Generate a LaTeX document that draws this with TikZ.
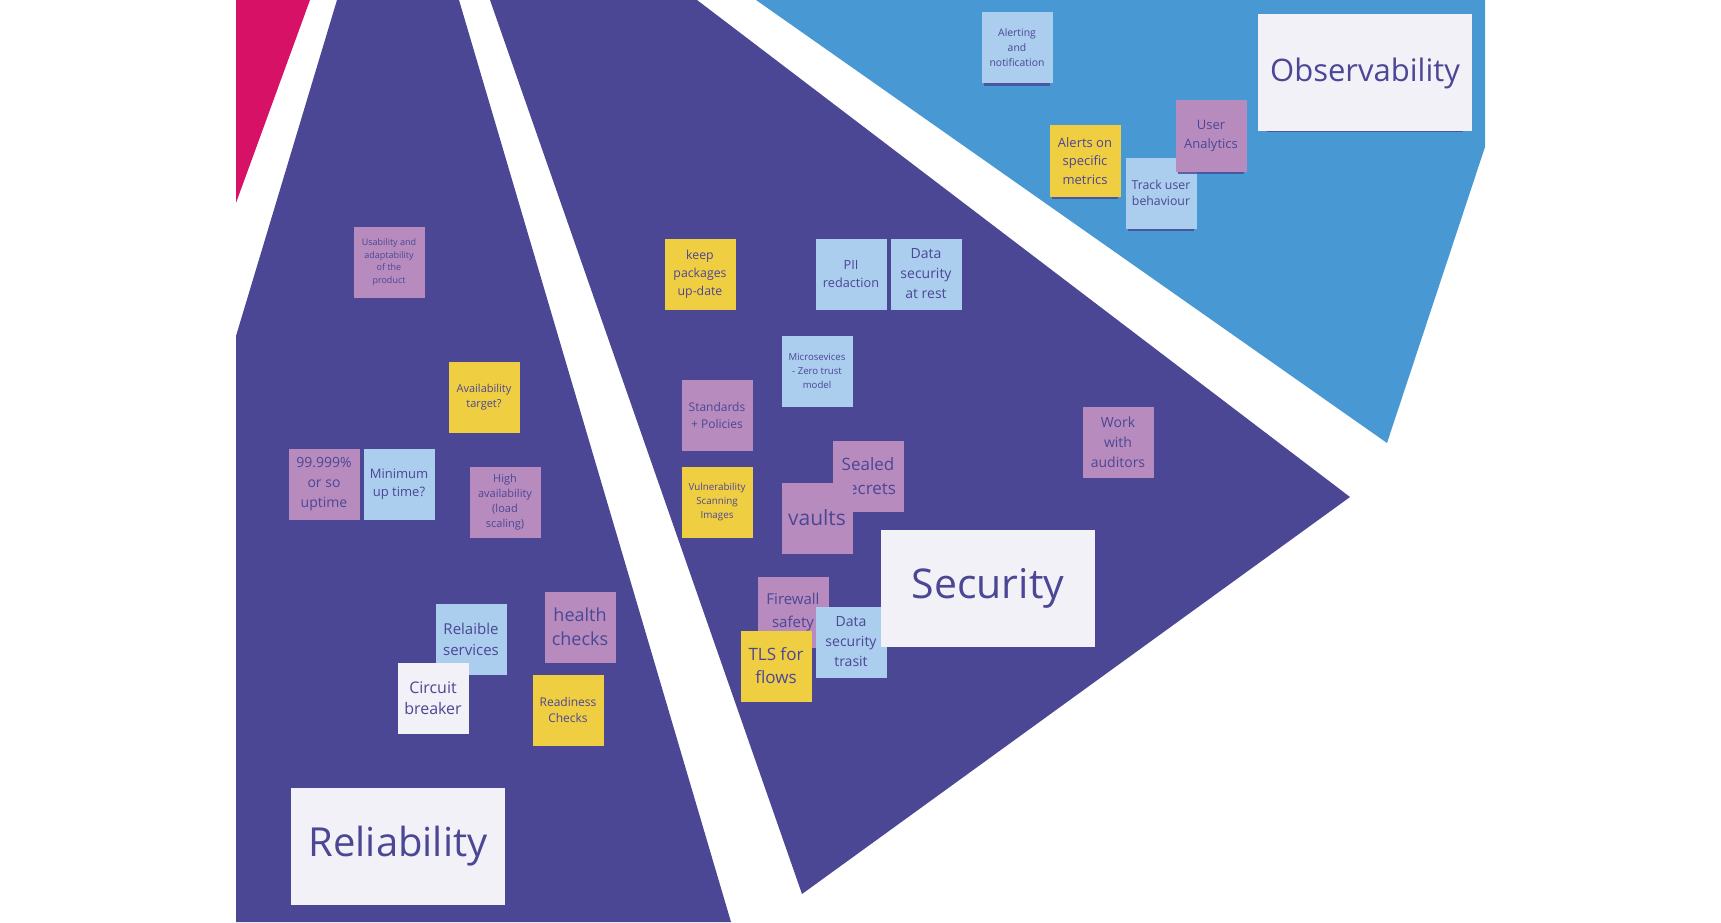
\documentclass[tikz,border=0pt]{standalone}
\usepackage{fontspec}
\setmainfont{Open Sans}
\usetikzlibrary{shadows}

\definecolor{board}{HTML}{4B4794}
\definecolor{sky}{HTML}{4899D3}
\definecolor{berry}{HTML}{D71166}
\definecolor{lilac}{HTML}{B78BBE}
\definecolor{lemon}{HTML}{F0CE42}
\definecolor{ice}{HTML}{ABCDEE}
\definecolor{paper}{HTML}{F2F1F7}
\definecolor{ink}{HTML}{4B4794}

\newcommand{\nsz}[2]{\fontsize{#1}{#2}\selectfont}

\begin{document}
\begin{tikzpicture}[
            x = 1pt, y = -1pt, % one unit per pixel, y runs downwards
            node distance = 75pt, % distance between neighbouring notes
            inner sep = 0pt
        ]

        \tikzstyle{note}=[
            rectangle,
            minimum size = 71pt,
            text = ink,
            align = center,
            drop shadow = {shadow xshift=0pt, shadow yshift=-6pt,
                shadow scale=0.92, fill=ink, opacity=0.8}
        ]
        \tikzstyle{lilac note}=[note, fill = lilac]
        \tikzstyle{lemon note}=[note, fill = lemon]
        \tikzstyle{ice note}=[note, fill = ice]
        \tikzstyle{paper note}=[note, fill = paper]
        \tikzstyle{title}=[note, fill = paper, minimum width = 214pt, minimum height = 117pt]

        \useasboundingbox (0,0) rectangle (1721,923);

        % board areas
        \fill[berry] (236,0) -- (310,0) -- (236,203) -- cycle;
        \fill[board] (236,336) -- (337,0) -- (459,0) -- (731,922) -- (236,922) -- cycle;
        \fill[board] (490,0) -- (697,0) -- (1350,497) -- (802,894) -- cycle;
        \fill[sky] (756,0) -- (1485,0) -- (1485,147) -- (1387,443) -- cycle;

        % reliability
	\node[lilac note, font=\nsz{9}{12.5}] (usab) at (389,262) {Usability and\\adaptability\\of the\\product};
	\node[lemon note, font=\nsz{11}{15}] (target) at (484,397) {Availability\\target?};
	\node[lilac note, font=\nsz{14}{20}] (nines) at (324,484) {99.999\%\\or so\\uptime};
	\node[ice note, font=\nsz{13}{18}] (uptime) [right of=nines] {Minimum\\up time?};
	\node[lilac note, font=\nsz{11}{15}] (highav) at (505,502) {High\\availability\\(load\\scaling)};
	\node[ice note, font=\nsz{15}{21}] (services) at (471,639) {Relaible\\services};
	\node[paper note, font=\nsz{16}{21}] (breaker) at (433,698) {Circuit\\breaker};
	\node[lilac note, font=\nsz{18}{24}] (health) at (580,627) {health\\checks};
	\node[lemon note, font=\nsz{12}{16}] (readiness) at (568,710) {Readiness\\Checks};
	\node[title, font=\nsz{40}{46}] (reliability) at (398,846) {Reliability};

        % security
	\node[lemon note, font=\nsz{12.3}{18}] (keep) at (700,274) {keep\\packages\\up-date};
	\node[ice note, font=\nsz{12.7}{18}] (pii) at (851,274) {PII\\redaction};
	\node[ice note, font=\nsz{14}{20}] (rest) [right of=pii] {Data\\security\\at rest};
	\node[ice note, font=\nsz{9.6}{14}] (zero) at (817,371) {Microsevices\\- Zero trust\\model};
	\node[lilac note, font=\nsz{12}{17}] (policies) at (717,415) {Standards\\+ Policies};
	\node[lemon note, font=\nsz{9.8}{14}] (scan) at (717,502) {Vulnerability\\Scanning\\Images};
	\node[lilac note, font=\nsz{17}{24}] (sealed) at (868,476) {Sealed\\secrets};
	\node[lilac note, font=\nsz{21}{26}] (vaults) at (817,518) {vaults};
	\node[lilac note, font=\nsz{14}{20}] (auditors) at (1118,442) {Work\\with\\auditors};
	\node[lilac note, font=\nsz{15}{23}] (firewall) at (793,612) {Firewall\\safety};
	\node[ice note, font=\nsz{14}{20}] (transit) at (851,642) {Data\\security\\trasit};
	\node[lemon note, font=\nsz{17}{23}] (tls) at (776,666) {TLS for\\flows};
	\node[title, font=\nsz{41}{47}] (security) at (988,588) {Security};

        % observability
	\node[ice note, font=\nsz{10.4}{15}] (alerting) at (1017,48) {Alerting\\and\\notification};
	\node[lemon note, font=\nsz{13}{18.7}] (metrics) at (1085,161) {Alerts on\\specific\\metrics};
	\node[ice note, font=\nsz{12.3}{16}] (behaviour) at (1161,193) {Track user\\behaviour};
	\node[lilac note, font=\nsz{13}{19}] (analytics) at (1211,136) {User\\Analytics};
	\node[title, font=\nsz{31}{37}] (observability) at (1365,73) {Observability};

    \end{tikzpicture}
\end{document}
